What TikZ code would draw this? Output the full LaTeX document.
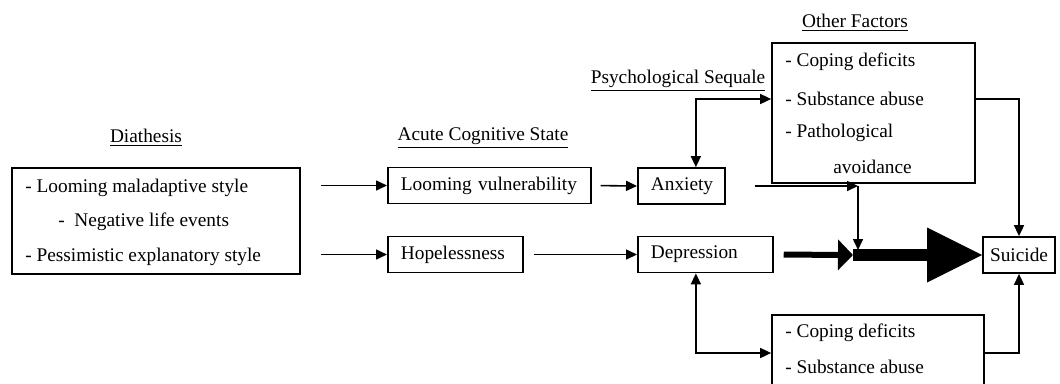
\documentclass[tikz,border=0pt]{standalone}
\usepackage{fontspec}
\setmainfont{Liberation Serif}
\usetikzlibrary{calc,positioning,arrows,arrows.meta}

\begin{document}
\begin{tikzpicture}[x=0.02cm,y=-0.02cm,
    font=\fontsize{11}{13}\selectfont,
    plain_box/.style={
           rectangle,
           draw,
           line width=1pt,
           inner sep=0pt},
    text_box/.style={
           rectangle,
           draw,
           line width=1pt,
           inner xsep=0.26cm,
           inner ysep=0pt,
           minimum height=0.72cm,
           align=left,
           anchor=west},
    line_text/.style={inner sep=0pt,anchor=west},
    head_text/.style={inner sep=0pt},
    thin_arrow/.style={
           -{Triangle[length=0.22cm,width=0.2cm]},
           line width=0.9pt},
    both_arrow/.style={
           {Triangle[length=0.22cm,width=0.2cm]}-{Triangle[length=0.22cm,width=0.2cm]},
           line width=0.9pt}]

  \useasboundingbox (0,0) rectangle (1060,383);

  % headings
  \path (146,138) node(t_dia) [head_text] {\underline{Diathesis}}
  (483,138) node(t_acs) [head_text] {\underline{Acute Cognitive State}}
  (678,81) node(t_psy) [head_text] {\underline{Psychological Sequale}}
  (855,23) node(t_oth) [head_text] {\underline{Other Factors}};

  % boxes
  \path (156,221) node(dia) [plain_box,minimum width=5.76cm,minimum height=2.12cm] {}
  (387,185.5) node(lv) [text_box,text width=3.54cm] {Looming vulnerability}
  (387,254.5) node(hop) [text_box,text width=2.18cm] {Hopelessness}
  (637,186) node(anx) [text_box,text width=1.22cm] {Anxiety}
  (637,254.5) node(dep) [text_box,text width=2.18cm] {Depression}
  (1019,255) node(sui) [plain_box,minimum width=1.44cm,minimum height=0.72cm] {Suicide}
  (873.5,113) node(oth) [plain_box,minimum width=4.06cm,minimum height=2.8cm] {}
  (878,353) node(bot) [plain_box,minimum width=4.24cm,minimum height=1.52cm] {};

  % box texts
  \path (25,188) node(d1) [line_text] {- Looming maladaptive style}
  (58,222) node(d2) [line_text] {-\ \ Negative life events}
  (25,257) node(d3) [line_text] {- Pessimistic explanatory style}
  (785,62) node(o1) [line_text] {- Coping deficits}
  (785,99) node(o2) [line_text] {- Substance abuse}
  (785,133) node(o3) [line_text] {- Pathological}
  (833,167) node(o4) [line_text] {avoidance}
  (785,333) node(b1) [line_text] {- Coping deficits}
  (785,367) node(b2) [line_text] {- Substance abuse};

  \coordinate (j_top) at (858,186);
  \coordinate (j_bot) at (858,250);
  \coordinate (mid) at (853,255);

  \path (dia.east |- lv.west) edge[thin_arrow,shorten <=0.4cm] (lv.west)
  (dia.east |- hop.west) edge[thin_arrow,shorten <=0.4cm] (hop.west)
  (lv.east) edge[thin_arrow,shorten <=0.18cm] (anx.west)
  (hop.east) edge[thin_arrow,shorten <=0.2cm] (dep.west)
  (anx.east) edge[thin_arrow,shorten <=0.58cm] (j_top)
  (j_top) edge[thin_arrow] (j_bot);

  \draw[line width=0.24cm,-{Triangle[length=1.1cm,width=1.1cm,line width=0pt]}] (mid) -- (sui.west);
  \draw[line width=0.12cm,-{Triangle[length=0.3cm,width=0.6cm]},shorten <=0.2cm] (dep.east) -- (mid);

  \draw[both_arrow] ([xshift=0.29cm]anx.north) |- (oth.west |- o2);
  \draw[thin_arrow] (oth.east |- o2) -| (sui.north);
  \draw[both_arrow] ([xshift=-0.19cm]dep.south) |- (bot.west);
  \draw[thin_arrow] (bot.east) -| (sui.south);

\end{tikzpicture}
\end{document}
